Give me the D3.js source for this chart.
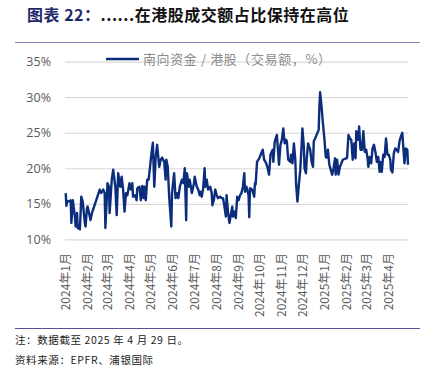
<!DOCTYPE html>
<html lang="zh">
<head>
<meta charset="UTF-8">
<title>南向资金占港股成交额</title>
<style>
  body { margin: 0; background: #fff; }
  #main { width: 435px; height: 366px; }
  text { font-family: "Noto Sans CJK SC", "Noto Sans", sans-serif; }
</style>
</head>
<body>
<div id="main"></div>
<script src="https://d3js.org/d3.v7.min.js"></script>
<script>
// 日期（交易日，近似读取）
const dates = [
  '2024-01-02','2024-01-03','2024-01-04','2024-01-08','2024-01-09','2024-01-10','2024-01-12','2024-01-15','2024-01-16','2024-01-18',
  '2024-01-19','2024-01-22','2024-01-24','2024-01-26','2024-01-29','2024-01-30','2024-02-01','2024-02-02','2024-02-06','2024-02-08',
  '2024-02-19','2024-02-21','2024-02-24','2024-02-26','2024-02-27','2024-03-01','2024-03-03','2024-03-04','2024-03-07','2024-03-09',
  '2024-03-12','2024-03-14','2024-03-16','2024-03-19','2024-03-21','2024-03-23','2024-03-25','2024-03-27','2024-03-29','2024-04-01',
  '2024-04-03','2024-04-05','2024-04-06','2024-04-09','2024-04-11','2024-04-12','2024-04-15','2024-04-17','2024-04-19','2024-04-21',
  '2024-04-22','2024-04-24','2024-04-26','2024-04-28','2024-04-30','2024-05-02','2024-05-04','2024-05-06','2024-05-08','2024-05-10',
  '2024-05-13','2024-05-15','2024-05-17','2024-05-20','2024-05-22','2024-05-23','2024-05-25','2024-05-27','2024-05-30','2024-05-31',
  '2024-06-03','2024-06-05','2024-06-07','2024-06-09','2024-06-11','2024-06-14','2024-06-16','2024-06-18','2024-06-20','2024-06-21',
  '2024-06-24','2024-06-25','2024-06-28','2024-07-01','2024-07-02','2024-07-05','2024-07-07','2024-07-09','2024-07-10','2024-07-12',
  '2024-07-14','2024-07-16','2024-07-17','2024-07-19','2024-07-21','2024-07-24','2024-07-26','2024-07-27','2024-07-29','2024-07-31',
  '2024-08-02','2024-08-04','2024-08-07','2024-08-09','2024-08-11','2024-08-13','2024-08-15','2024-08-16','2024-08-18','2024-08-20',
  '2024-08-22','2024-08-24','2024-08-25','2024-08-27','2024-08-29','2024-08-31','2024-09-02','2024-09-04','2024-09-06','2024-09-08',
  '2024-09-10','2024-09-11','2024-09-13','2024-09-16','2024-09-17','2024-09-18','2024-09-21','2024-09-24','2024-09-25','2024-09-26',
  '2024-09-28','2024-10-01','2024-10-04','2024-10-06','2024-10-08','2024-10-11','2024-10-13','2024-10-15','2024-10-17','2024-10-20',
  '2024-10-21','2024-10-23','2024-10-26','2024-10-27','2024-10-29','2024-10-31','2024-11-02','2024-11-04','2024-11-06','2024-11-08',
  '2024-11-09','2024-11-11','2024-11-14','2024-11-15','2024-11-17','2024-11-19','2024-11-21','2024-11-22','2024-11-24','2024-11-26',
  '2024-11-28','2024-11-30','2024-12-01','2024-12-03','2024-12-04','2024-12-06','2024-12-07','2024-12-09','2024-12-12','2024-12-14',
  '2024-12-16','2024-12-17','2024-12-19','2024-12-21','2024-12-24','2024-12-25','2024-12-26','2024-12-28','2024-12-30','2025-01-01',
  '2025-01-03','2025-01-04','2025-01-06','2025-01-08','2025-01-10','2025-01-12','2025-01-14','2025-01-16','2025-01-17','2025-01-19',
  '2025-01-21','2025-01-23','2025-01-25','2025-01-27','2025-01-29','2025-02-01','2025-02-02','2025-02-04','2025-02-06','2025-02-08',
  '2025-02-10','2025-02-12','2025-02-14','2025-02-15','2025-02-18','2025-02-19','2025-02-21','2025-02-23','2025-02-25','2025-02-27',
  '2025-03-01','2025-03-03','2025-03-04','2025-03-06','2025-03-08','2025-03-10','2025-03-12','2025-03-14','2025-03-16','2025-03-18',
  '2025-03-20','2025-03-21','2025-03-23','2025-03-25','2025-03-27','2025-03-29','2025-03-31','2025-04-02','2025-04-04','2025-04-05',
  '2025-04-07','2025-04-09','2025-04-11','2025-04-13','2025-04-15','2025-04-17','2025-04-19','2025-04-21','2025-04-22','2025-04-24',
  '2025-04-26','2025-04-28','2025-04-29'
]

// 南向资金/港股（交易额，%）
const share = [
  16.5,14.7,15.4,15.3,15.5,12.3,15.5,13.2,11.8,13.7,
  11.6,11.4,16.0,15.3,12.3,11.8,14.4,14.6,12.7,13.7,
  17.0,16.5,17.0,16.5,11.6,17.9,17.4,13.7,18.4,19.8,
  17.4,13.4,19.3,17.4,18.8,17.0,13.9,16.5,16.2,17.9,
  17.0,17.9,16.0,16.2,15.5,17.2,17.4,15.5,17.5,15.8,
  17.4,15.5,18.4,18.4,20.2,22.1,23.6,17.4,21.6,23.3,
  20.2,21.2,21.5,20.9,18.4,21.2,20.2,16.0,11.8,16.5,
  19.3,15.8,16.5,15.8,17.4,18.4,17.9,20.0,12.7,19.3,
  17.4,18.4,16.5,17.9,18.8,17.4,17.0,16.2,16.7,16.0,
  17.2,20.0,17.4,18.4,17.0,17.4,16.5,14.8,15.5,17.0,
  16.2,15.8,16.0,15.8,15.8,14.6,13.2,16.2,13.9,12.3,
  13.4,14.6,13.2,13.9,13.0,16.0,15.5,16.2,16.5,17.4,
  19.3,16.7,17.4,16.2,13.1,17.2,17.0,16.0,17.9,17.7,
  20.9,21.4,22.1,22.6,21.2,20.7,20.0,19.1,21.9,22.6,
  20.9,23.8,24.7,23.3,20.5,23.3,24.0,25.6,23.5,24.0,
  23.8,21.2,20.9,21.9,20.7,23.5,21.2,17.9,15.3,17.7,
  19.8,23.5,25.6,23.1,20.0,19.3,21.2,23.5,22.6,20.9,
  20.2,23.8,24.2,24.7,25.4,28.7,30.7,28.7,26.3,24.2,
  21.6,21.5,22.6,20.5,19.8,19.1,20.0,21.4,19.1,21.2,
  19.1,20.2,20.7,21.2,21.3,21.4,21.5,24.7,24.2,24.0,
  21.2,23.5,21.4,25.2,24.0,25.9,22.6,22.6,25.2,22.3,
  22.6,21.4,20.2,21.6,20.7,22.8,23.3,22.3,20.9,21.6,
  19.5,20.9,19.5,21.9,21.6,24.2,21.9,21.9,21.2,19.8,
  19.4,22.1,22.8,22.6,22.3,23.8,24.5,25.0,23.5,20.7,
  22.8,22.6,20.5
]

const yTicks = [10, 15, 20, 25, 30, 35]
const legendLabel = '南向资金 / 港股（交易额，%）'

const [width, height] = [435, 366]
const svg = d3.select('#main').append('svg')
  .attr('width', width)
  .attr('height', height)
  .attr('viewBox', `0 0 ${width} ${height}`)

// 标题
const title = svg.append('text')
  .attr('x', 27).attr('y', 21)
  .style('font-size', '16px').style('font-weight', 'bold')
  .style('letter-spacing', '0.5px')
title.append('tspan').attr('fill', '#1f2a6b').text('图表 22：')
title.append('tspan').attr('fill', '#111').text('......在港股成交额占比保持在高位')

svg.append('line')
  .attr('x1', 15).attr('x2', 420).attr('y1', 42.5).attr('y2', 42.5)
  .attr('stroke', '#8a84b8').attr('stroke-width', 1)

// 比例尺
const parse = d3.timeParse('%Y-%m-%d')
const data = dates.map((d, i) => ({ date: parse(d), v: share[i] }))

const x = d3.scaleTime()
  .domain([parse('2024-01-01'), parse('2025-04-29')])
  .range([65, 408])

const y = d3.scaleLinear()
  .domain([10, 35])
  .range([239.3, 61.7])

// 网格线 + y 轴
const yAxis = svg.append('g')
  .attr('transform', 'translate(65,0)')
  .call(d3.axisLeft(y).tickValues(yTicks).tickSize(-343).tickFormat(d => d + '%').tickPadding(14))
yAxis.select('.domain').remove()
yAxis.selectAll('line').attr('stroke', '#d9d9d9').attr('stroke-width', 1.2)
yAxis.selectAll('text')
  .attr('fill', '#595959')
  .style('font-size', '12.5px')
  .style('font-family', '"Open Sans", "Noto Sans", sans-serif')

// x 轴（月份，竖排）
const xAxis = svg.append('g')
  .attr('transform', 'translate(0,250)')
  .call(d3.axisBottom(x)
    .ticks(d3.timeMonth.every(1))
    .tickSize(0)
    .tickFormat(d => `${d.getFullYear()}年${d.getMonth() + 1}月`))
xAxis.select('.domain').remove()
xAxis.selectAll('text')
  .attr('transform', 'rotate(-90)')
  .attr('text-anchor', 'end')
  .attr('x', -3).attr('y', 0).attr('dy', '0.35em')
  .attr('fill', '#595959')
  .style('font-size', '12px')

// 折线
const line = d3.line()
  .x(d => x(d.date))
  .y(d => y(d.v))

svg.append('path')
  .datum(data)
  .attr('fill', 'none')
  .attr('stroke', '#0b2d7c')
  .attr('stroke-width', 2.4)
  .attr('stroke-linejoin', 'round')
  .attr('d', line)

// 图例
svg.append('line')
  .attr('x1', 106).attr('x2', 139).attr('y1', 59).attr('y2', 59)
  .attr('stroke', '#0b2d7c').attr('stroke-width', 2.4)
svg.append('text')
  .attr('x', 143).attr('y', 64)
  .attr('fill', '#8c8c8c')
  .style('font-size', '13px')
  .attr('textLength', 188)
  .attr('lengthAdjust', 'spacing')
  .text(legendLabel)

// 底线与注释
svg.append('line')
  .attr('x1', 15).attr('x2', 420).attr('y1', 328.5).attr('y2', 328.5)
  .attr('stroke', '#5b4f96').attr('stroke-width', 1.2)
svg.append('text')
  .attr('x', 15).attr('y', 344)
  .attr('fill', '#222')
  .style('font-size', '10.5px')
  .style('letter-spacing', '0.6px')
  .text('注：数据截至 2025 年 4 月 29 日。')
svg.append('text')
  .attr('x', 15).attr('y', 364)
  .attr('fill', '#222')
  .style('font-size', '10.5px')
  .style('letter-spacing', '0.6px')
  .text('资料来源：EPFR、浦银国际')
</script>
</body>
</html>
